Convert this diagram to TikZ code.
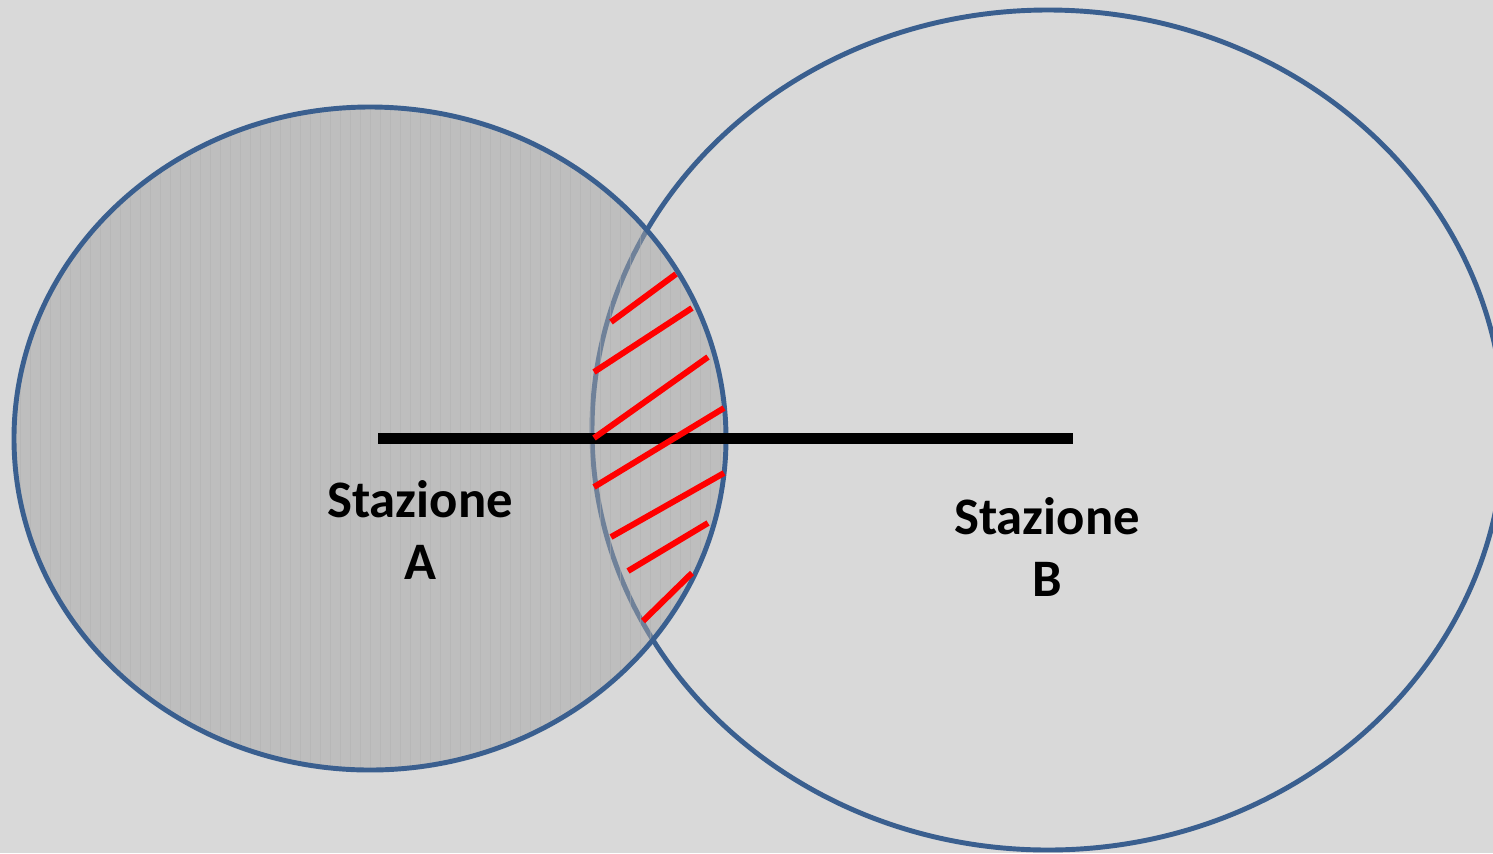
\documentclass[tikz,border=0pt]{standalone}
\usepackage{fontspec}
\setmainfont{Carlito}
\definecolor{bg}{HTML}{D9D9D9}
\definecolor{outl}{HTML}{3A5F8F}
\definecolor{afill}{HTML}{A4A4A4}
\definecolor{gridc}{HTML}{B0B0B0}
\definecolor{hatch}{HTML}{FF0000}
\tikzset{
  rim/.style={draw=outl, line width=2.8pt},
  hatchline/.style={draw=hatch, line width=3.4pt},
  baseline/.style={draw=black, line width=6.2pt},
  lab/.style={font=\bfseries\fontsize{30}{36}\selectfont, anchor=base, inner sep=0pt},
}
\begin{document}
\begin{tikzpicture}[x=0.02cm, y=-0.02cm]
\useasboundingbox (0,0) rectangle (1493,853);
\fill[bg] (0,0) rectangle (1493,853);
\begin{scope}
\clip (0,0) rectangle (1493,853);
% ellipse B
\draw[rim, fill=bg] (1048,430) ellipse [x radius=456, y radius=420];
% ellipse A fill
\fill[afill, fill opacity=0.5] (370,438.5) ellipse [x radius=356, y radius=331.5];
\begin{scope}
\clip (370,438.5) ellipse [x radius=356, y radius=331.5];
\draw[gridc, line width=0.5pt, opacity=0.45] (10,100) grid[step=10] (730,780);
\end{scope}
\draw[rim] (370,438.5) ellipse [x radius=356, y radius=331.5];
\end{scope}
% black line
\coordinate (l1) at (378,438.5);
\coordinate (l2) at (1073,438.5);
\draw[baseline] (l1) -- (l2);
% red hatching
\coordinate (r1a) at (611,322); \coordinate (r1b) at (676,274);
\coordinate (r2a) at (594,372); \coordinate (r2b) at (692,308);
\coordinate (r3a) at (594,438); \coordinate (r3b) at (708,357);
\coordinate (r4a) at (594,487); \coordinate (r4b) at (724,408);
\coordinate (r5a) at (611,537); \coordinate (r5b) at (724,473);
\coordinate (r6a) at (628,571); \coordinate (r6b) at (708,523);
\coordinate (r7a) at (643,621); \coordinate (r7b) at (692,573);
\foreach \i in {1,...,7} {\draw[hatchline] (r\i a) -- (r\i b);}
% labels
\node[lab] (sa1) at (420,517) {Stazione};
\node[lab] (sa2) at (420,579) {A};
\node[lab] (sb1) at (1047,534) {Stazione};
\node[lab] (sb2) at (1047,596) {B};
\end{tikzpicture}
\end{document}
